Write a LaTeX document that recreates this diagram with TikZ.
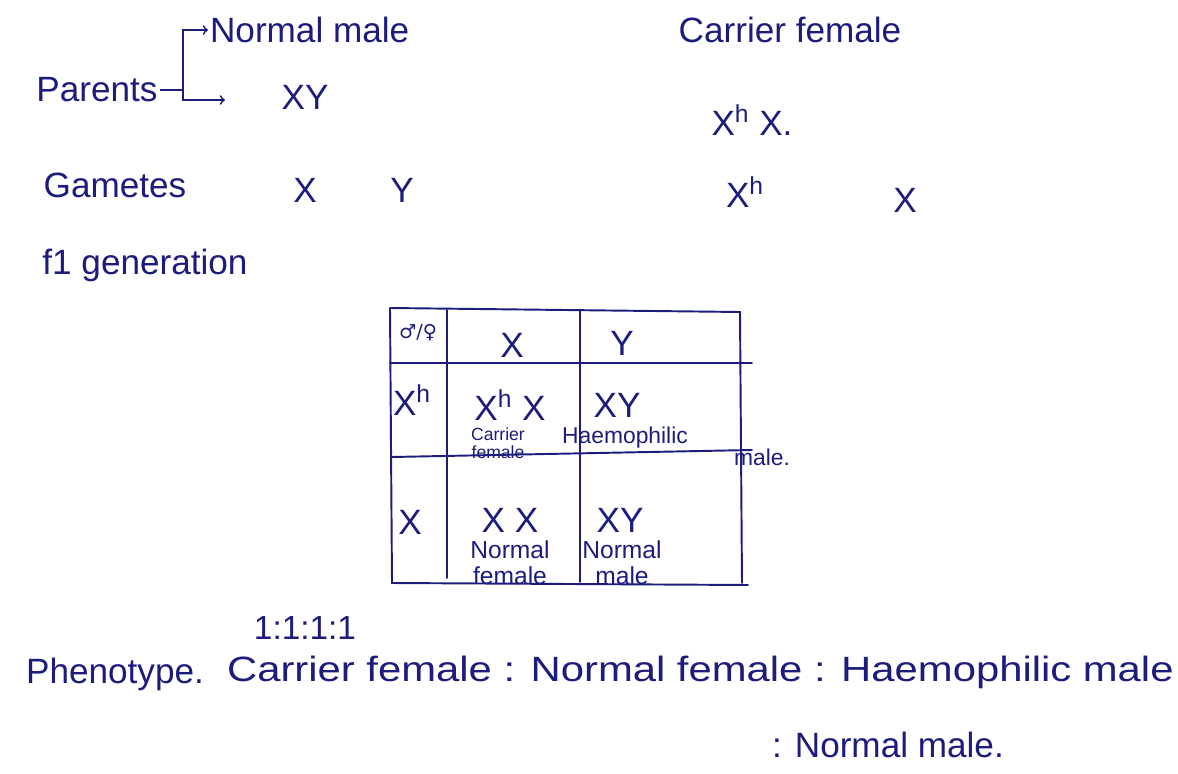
\documentclass[tikz,border=0pt]{standalone}
\usepackage{fontspec}
\setmainfont{Liberation Sans}
\newfontfamily\symfont{DejaVu Sans}
\usepackage{tikz}
\usetikzlibrary{calc}
\definecolor{ink}{RGB}{28,28,125}
\tikzset{
  big/.style={text=ink, font=\fontsize{20}{24}\selectfont, inner sep=1pt},
  cellsmall/.style={text=ink, font=\fontsize{10}{10}\selectfont, align=center, inner sep=0pt},
  grid/.style={draw=ink, line width=1.1pt, line cap=round},
}
\begin{document}
\begin{tikzpicture}[x=0.02cm, y=-0.02cm]
		%%%%% START %%%%%
		\useasboundingbox (0, 0) rectangle (1178, 774);
		
		% parents
		\node[big] (parents) at (97, 90) {Parents};
		\node[big, anchor=west] (nmale) at (208, 30) {Normal male};
		\node[big] (pxy) at (305, 97) {XY};
		\node[big] (cfem) at (790, 30) {Carrier female};
		\node[big] (pxx) at (752, 120) {X$^{\mathrm{h}}$ X.};
		\coordinate (brk) at (183, 90);
		\coordinate (brkend) at (225, 100);
		\draw[ink, line width=1pt] (parents.east) -- (brk);
		\draw[ink, line width=1pt, ->] (brk) |- (nmale.west);
		\draw[ink, line width=1pt, ->] (brk) |- (brkend);
		
		% gametes
		\node[big] (gam) at (115, 185) {Gametes};
		\node[big] (gx) at (305, 190) {X};
		\node[big] (gy) at (402, 190) {Y};
		\node[big] (gxh) at (745, 192) {X$^{\mathrm{h}}$};
		\node[big] (gx2) at (905, 200) {X};
		
		\node[big] (fone) at (145, 265) {f1 generation};
		
		% punnett square
		\draw[grid] (390, 308) -- (740, 312) -- (742, 583);
		\draw[grid] (390, 308) -- (392, 583) -- (748, 585);
		\draw[grid] (390, 363) -- (752, 363);
		\draw[grid] (392, 457) -- (752, 450);
		\draw[grid] (447, 310) -- (447, 578);
		\draw[grid] (580, 310) -- (580, 582);
		
		\node[big, font=\symfont\fontsize{11}{11}\selectfont] (sex) at (418, 333) {♂/♀};
		\node[big] (hx) at (512, 345) {X};
		\node[big] (hy) at (622, 343) {Y};
		
		\node[big] (rxh) at (412, 400) {X$^{\mathrm{h}}$};
		\node[big] (cxhx) at (510, 405) {X$^{\mathrm{h}}$ X};
		\node[cellsmall] (lcf) at (498, 443) {Carrier\\female};
		\node[big] (cxy1) at (617, 405) {XY};
		\node[cellsmall, font=\fontsize{13}{13}\selectfont] (lhm) at (625, 438) {Haemophilic};
		\node[cellsmall, font=\fontsize{13}{13}\selectfont] (lhm2) at (762, 457) {male.};
		
		\node[big] (rx) at (410, 522) {X};
		\node[big] (cxx) at (510, 520) {X X};
		\node[cellsmall, font=\fontsize{14}{15}\selectfont] (lnf) at (510, 563) {Normal\\female};
		\node[big] (cxy2) at (620, 520) {XY};
		\node[cellsmall, font=\fontsize{14}{15}\selectfont] (lnm) at (622, 563) {Normal\\male};
		
		% ratio and phenotype
		\node[big, font=\fontsize{19}{20}\selectfont] (ratio) at (305, 628) {1:1:1:1};
		\node[big] (pheno) at (115, 674) {Phenotype.};
		\node[big, anchor=west] (plist) at (225, 672) {\scalebox{1.19}[1]{Carrier female : Normal female : Haemophilic male}};
		\node[big, anchor=west] (plist2) at (770, 745) {: Normal male.};
		%%%%% END %%%%%
\end{tikzpicture}
\end{document}
